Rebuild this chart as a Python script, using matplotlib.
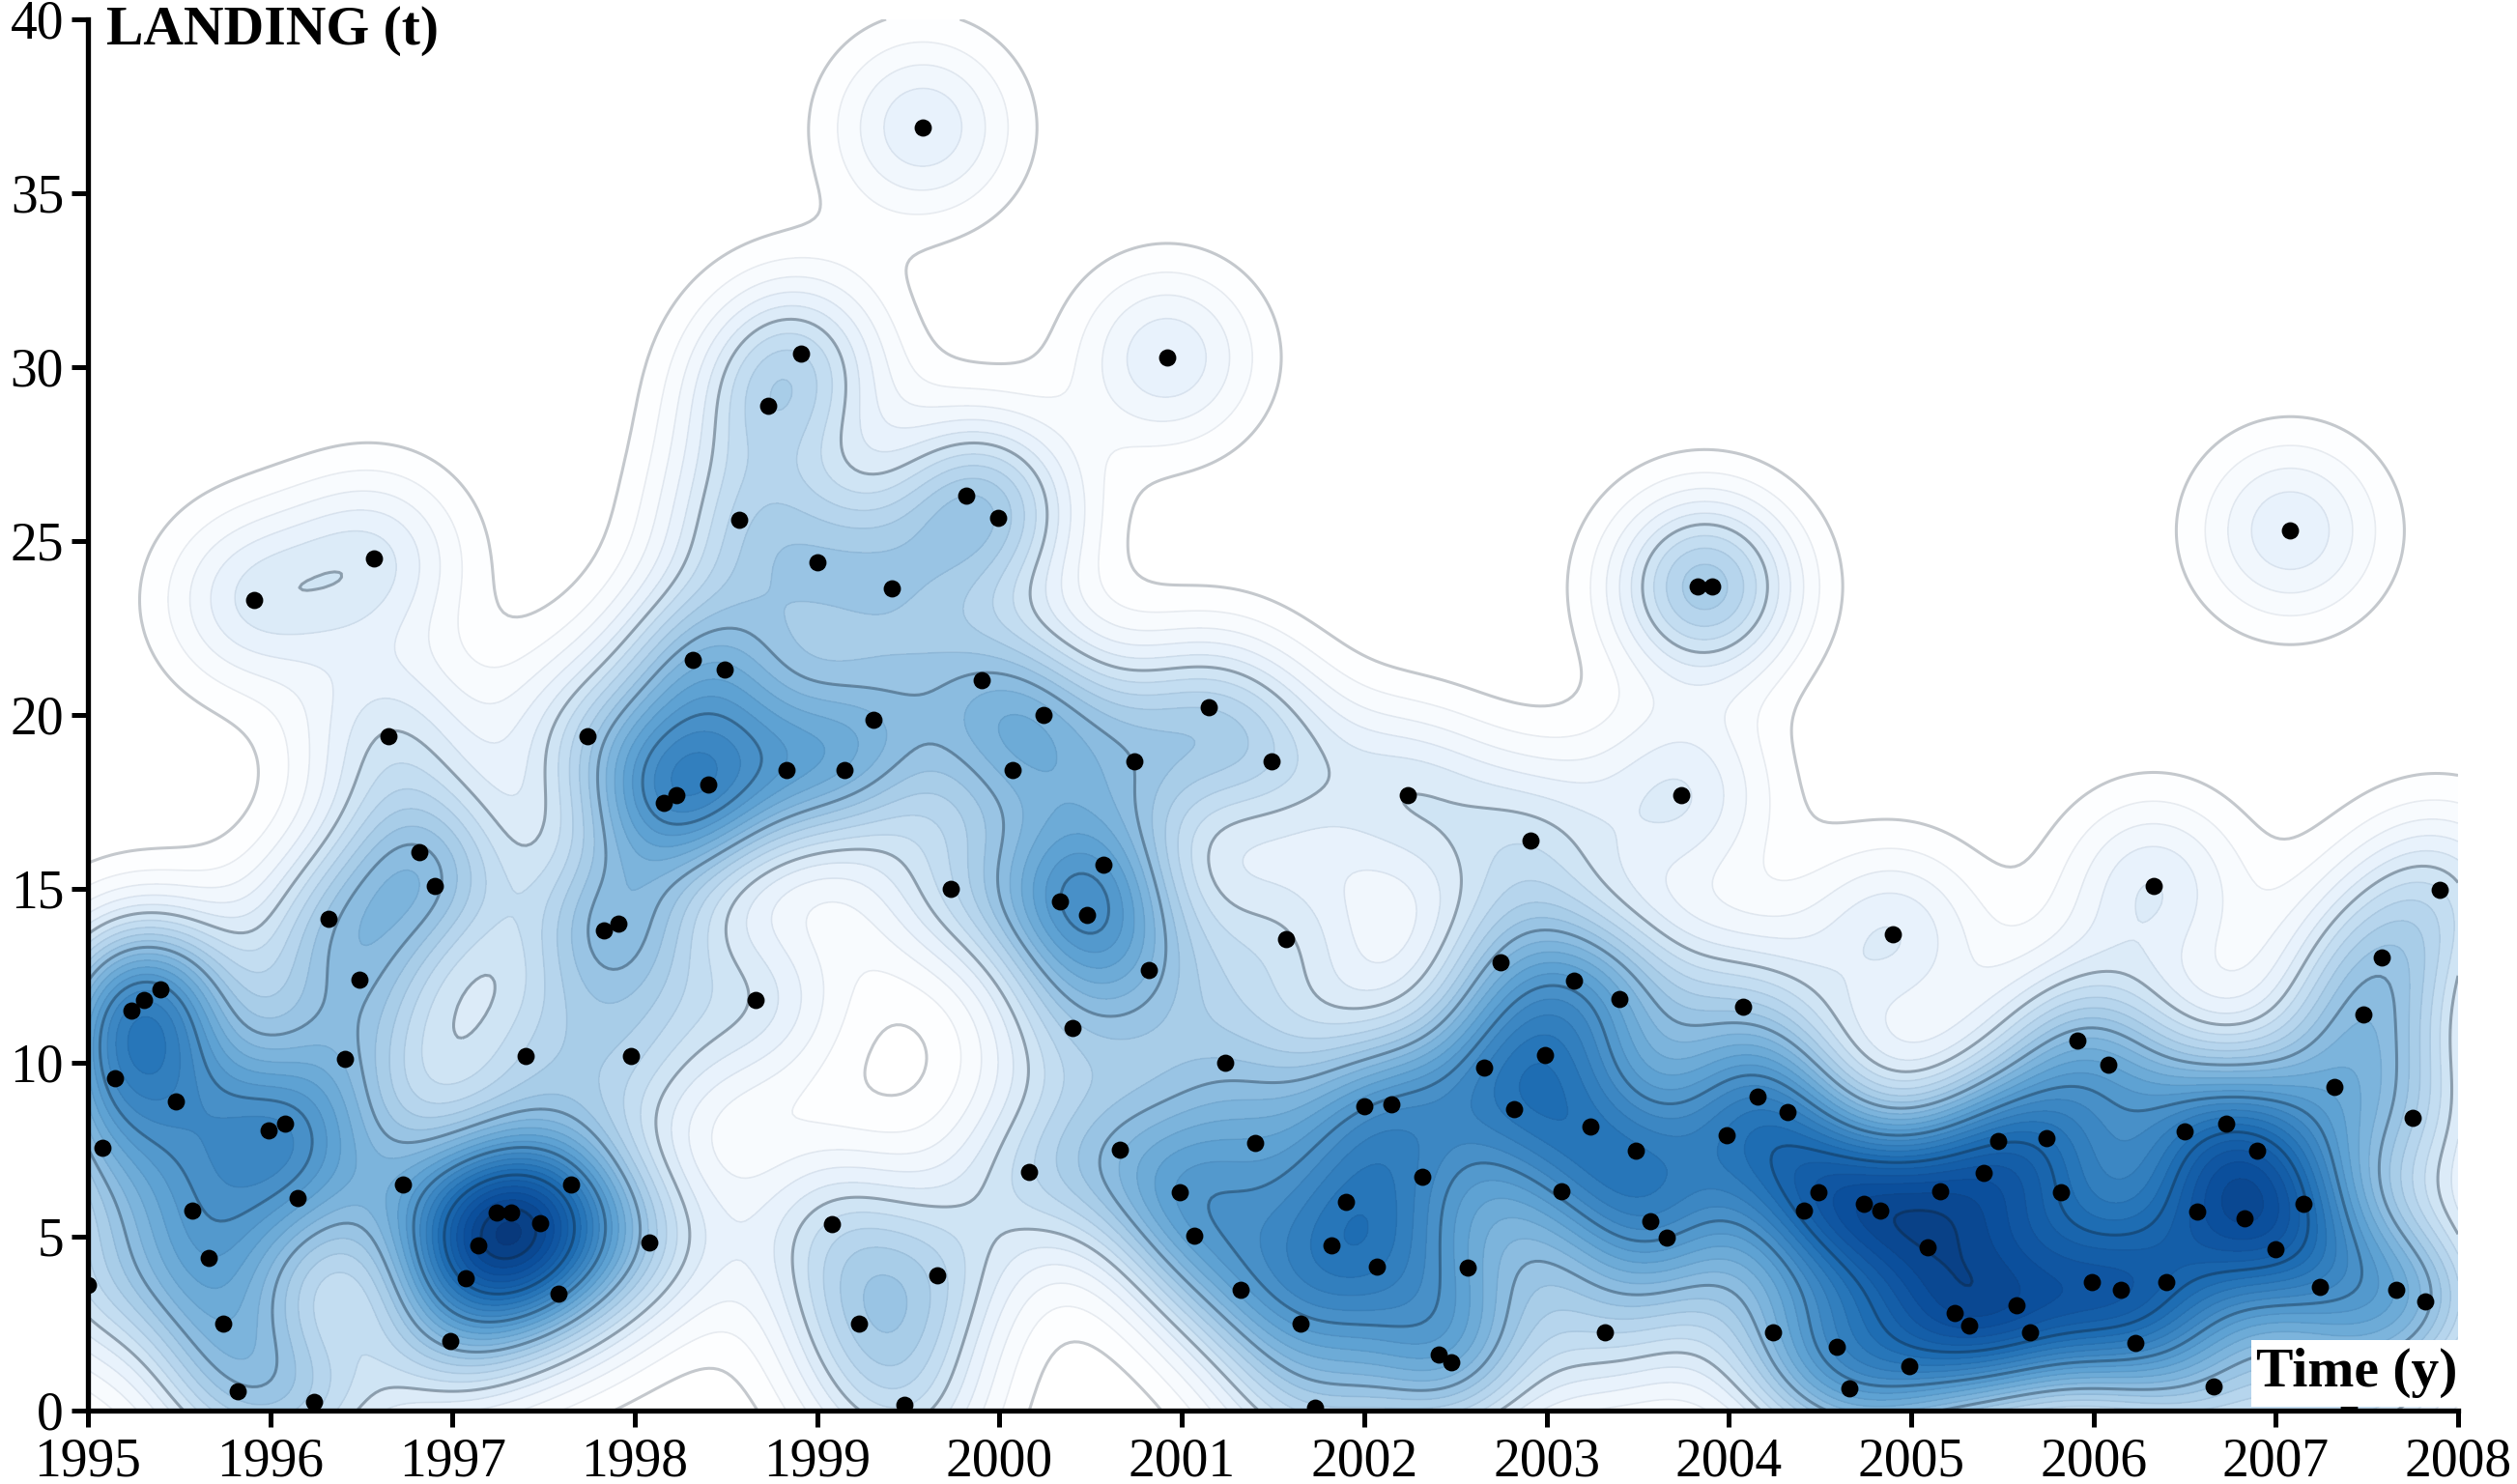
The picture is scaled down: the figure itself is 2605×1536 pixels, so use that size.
import numpy as np
import matplotlib
matplotlib.use('Agg')
import matplotlib.pyplot as plt
from matplotlib.colors import LinearSegmentedColormap
from matplotlib.patches import Rectangle

# monthly landings
time_y = [1995.0,1995.08,1995.15,1995.24,1995.31,1995.4,1995.48,1995.57,1995.66,1995.74,1995.82,1995.91,
          1995.99,1996.08,1996.15,1996.24,1996.32,1996.41,1996.49,1996.57,1996.65,1996.73,1996.82,1996.9,
          1996.99,1997.07,1997.14,1997.24,1997.32,1997.4,1997.48,1997.58,1997.65,1997.74,1997.83,1997.91,
          1997.98,1998.08,1998.16,1998.23,1998.32,1998.4,1998.49,1998.57,1998.66,1998.73,1998.83,1998.91,
          1999.0,1999.08,1999.15,1999.23,1999.31,1999.41,1999.48,1999.58,1999.66,1999.73,1999.82,1999.9,
          1999.99,2000.07,2000.16,2000.24,2000.33,2000.4,2000.48,2000.57,2000.66,2000.74,2000.82,2000.92,
          2000.99,2001.07,2001.15,2001.24,2001.32,2001.4,2001.49,2001.57,2001.65,2001.73,2001.82,2001.9,
          2002.0,2002.07,2002.15,2002.24,2002.32,2002.41,2002.48,2002.57,2002.66,2002.75,2002.82,2002.91,
          2002.99,2003.08,2003.15,2003.24,2003.32,2003.4,2003.49,2003.57,2003.66,2003.74,2003.83,2003.91,
          2003.99,2004.08,2004.16,2004.24,2004.32,2004.41,2004.49,2004.59,2004.66,2004.74,2004.83,2004.9,
          2004.99,2005.09,2005.16,2005.24,2005.32,2005.4,2005.48,2005.58,2005.65,2005.74,2005.82,2005.91,
          2005.99,2006.08,2006.15,2006.23,2006.33,2006.4,2006.5,2006.57,2006.66,2006.73,2006.83,2006.9,
          2007.0,2007.08,2007.15,2007.24,2007.32,2007.4,2007.48,2007.58,2007.66,2007.75,2007.82,2007.9]
landing = [3.6,7.55,9.55,11.5,11.8,12.1,8.9,5.76,4.4,2.5,0.55,23.3,
           8.06,8.25,6.1,0.25,14.15,10.1,12.4,24.5,19.4,6.5,16.05,15.07,
           2.0,3.8,4.75,5.7,5.7,10.2,5.4,3.36,6.5,19.4,13.8,14.0,
           10.2,4.84,17.46,17.7,21.57,18.0,21.3,25.6,11.8,28.9,18.43,30.4,
           24.4,5.35,18.43,2.5,19.86,23.64,0.18,36.9,3.9,15.0,26.3,21.0,
           25.67,18.43,6.87,20.0,14.65,11.0,14.24,15.7,7.5,18.66,12.67,30.28,
           6.27,5.02,20.23,10.0,3.46,7.7,18.66,13.55,2.5,0.09,4.75,6.0,
           8.76,4.15,8.8,17.7,6.73,1.6,1.38,4.1,9.86,12.9,8.66,16.4,
           10.23,6.31,12.35,8.16,2.26,11.84,7.47,5.44,4.98,17.7,23.7,23.7,
           7.93,11.6,9.03,2.26,8.57,5.76,6.27,1.84,0.65,5.94,5.76,13.69,
           1.29,4.7,6.31,2.81,2.44,6.82,7.74,3.04,2.26,7.83,6.27,10.65,
           3.69,9.95,3.46,1.94,15.07,3.69,8.02,5.71,0.69,8.25,5.53,7.47,
           4.65,25.3,5.94,3.55,9.3,0.09,11.38,13.04,3.46,8.43,3.13,14.98]

x_ticks = list(range(1995, 2009))
y_ticks = [0, 5, 10, 15, 20, 25, 30, 35, 40]

# kernel widths of the density surface, and height of one lone point in contour steps
bw_x = 0.353
bw_y = 1.85
peak_one = 4.8
n_levels = 34

plt.rcParams['font.family'] = ['Liberation Serif', 'DejaVu Serif']

fig = plt.figure(figsize=(26.05, 15.36), dpi=100)
ax = fig.add_axes([91/2605, 1-1460/1536, (2544-91)/2605, (1460-20)/1536])

xs = np.array(time_y)
ys = np.array(landing)
gx, gy = np.meshgrid(np.linspace(1995, 2008, 520), np.linspace(0, 40, 400))
z = np.zeros_like(gx)
for a, b in zip(xs, ys):
    z += np.exp(-0.5*((gx-a)/bw_x)**2 - 0.5*((gy-b)/bw_y)**2)
z = z*peak_one

cmap = LinearSegmentedColormap.from_list('landing', [
    (0.0, '#ffffff'), (0.05, '#fdfeff'), (0.087, '#f8fbfe'), (0.12, '#f1f7fd'), (0.156, '#e7f2fc'),
    (0.3, '#b4d4ec'), (0.5, '#5fa3d3'), (0.7, '#1f6fb5'), (0.85, '#0b4f9c'), (1.0, '#062f6e')])

levels = np.arange(1, n_levels+1)
ax.contourf(gx, gy, z, levels=levels, cmap=cmap, vmin=0, vmax=n_levels*0.85, extend='max')
minor = [k for k in levels if (k-1) % 5 != 0]
major = [k for k in levels if (k-1) % 5 == 0 and k > 1]
ax.contour(gx, gy, z, levels=minor, colors='#203050', linewidths=1.2, alpha=0.08)
ax.contour(gx, gy, z, levels=[1], colors='#102030', linewidths=2.2, alpha=0.24)
ax.contour(gx, gy, z, levels=major, colors='#102030', linewidths=2.2, alpha=0.36)

ax.scatter(xs, ys, s=165, c='black', linewidths=0, zorder=5)

ax.set_xlim(1995, 2008)
ax.set_ylim(0, 40)
ax.set_xticks(x_ticks)
ax.set_yticks(y_ticks)
ax.tick_params(axis='both', length=12, width=3.6, labelsize=40, direction='out')
ax.tick_params(axis='x', pad=8)
ax.tick_params(axis='y', pad=6)
for s in ['top', 'right']:
    ax.spines[s].set_visible(False)
for s in ['left', 'bottom']:
    ax.spines[s].set_linewidth(3.8)
    ax.spines[s].set_zorder(6)

ax.text(110/2605, 1-46/1536, 'LANDING (t)', transform=fig.transFigure, fontsize=41.5,
        fontweight='bold', ha='left', va='baseline')
ax.add_patch(Rectangle((0.9128, 0.003), 0.0872, 0.048, transform=ax.transAxes,
                       facecolor='white', edgecolor='none', zorder=5.5))
ax.text(2335/2605, 1-1435/1536, 'Time (y)', transform=fig.transFigure, fontsize=41.5,
        fontweight='bold', ha='left', va='baseline', zorder=7)

fig.savefig('out.png', dpi=100)
